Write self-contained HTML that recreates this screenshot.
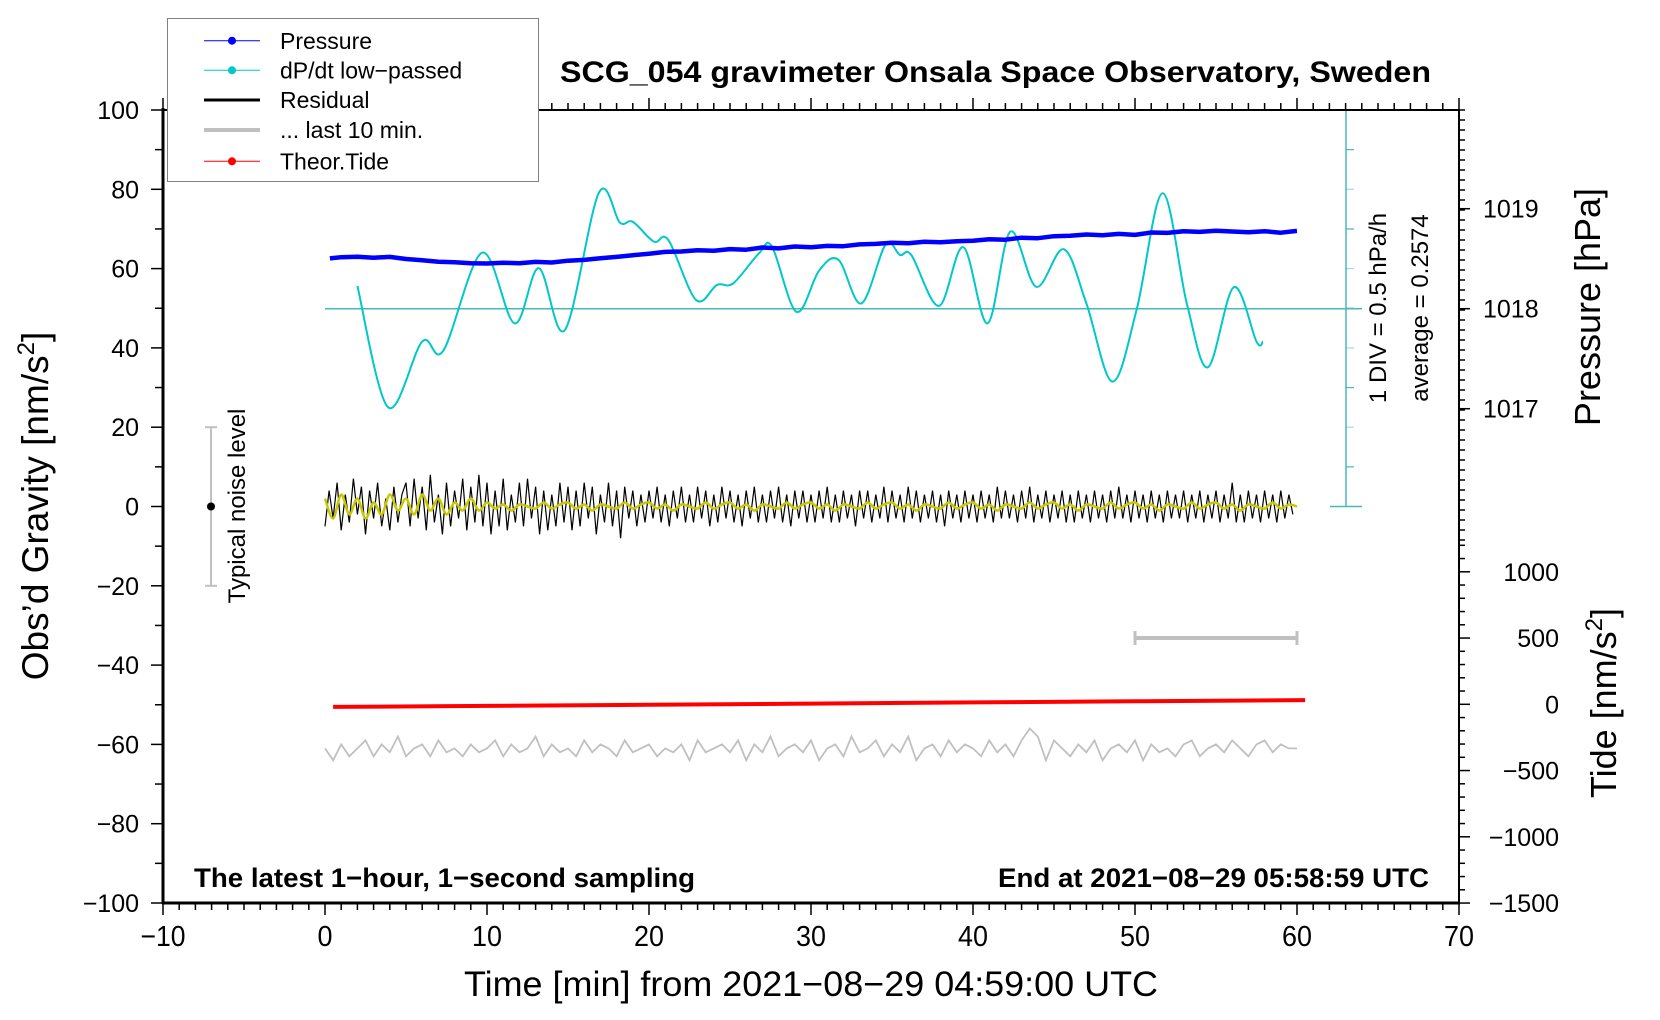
<!DOCTYPE html>
<html><head><meta charset="utf-8"><style>
html,body{margin:0;padding:0;background:#fff;}
svg{display:block;font-family:"Liberation Sans",sans-serif;}
</style></head><body>
<svg id="chart" width="1660" height="1020" viewBox="0 0 1660 1020" xmlns="http://www.w3.org/2000/svg">
<rect width="1660" height="1020" fill="#fff"/>
<g id="ticks"></g>
<g id="marks"></g>
<!-- frame -->
<line x1="163" y1="110" x2="1459" y2="110" stroke="#000" stroke-width="2"/>
<line x1="1459" y1="110" x2="1459" y2="903" stroke="#000" stroke-width="2"/>
<line x1="163" y1="108" x2="163" y2="904" stroke="#000" stroke-width="3"/>
<line x1="162" y1="903" x2="1460" y2="903" stroke="#000" stroke-width="3"/>
<g id="labels"></g>
<text x="560" y="82" font-size="30" font-weight="bold" textLength="871" lengthAdjust="spacingAndGlyphs">SCG_054 gravimeter Onsala Space Observatory, Sweden</text>
<text x="194" y="887" font-size="27" font-weight="bold" textLength="501" lengthAdjust="spacingAndGlyphs">The latest 1−hour, 1−second sampling</text>
<text x="998" y="887" font-size="27" font-weight="bold" textLength="431" lengthAdjust="spacingAndGlyphs">End at 2021−08−29 05:58:59 UTC</text>
<text x="464" y="996" font-size="35" textLength="694" lengthAdjust="spacingAndGlyphs">Time [min] from 2021−08−29 04:59:00 UTC</text>
<text transform="translate(48,506) rotate(-90)" text-anchor="middle" font-size="37">Obs’d Gravity [nm/s<tspan dy="-14" font-size="24">2</tspan><tspan dy="14">]</tspan></text>
<text transform="translate(1600,307) rotate(-90)" text-anchor="middle" font-size="36">Pressure [hPa]</text>
<text transform="translate(1616,703) rotate(-90)" text-anchor="middle" font-size="36">Tide [nm/s<tspan dy="-14" font-size="24">2</tspan><tspan dy="14">]</tspan></text>
<text transform="translate(245,506) rotate(-90)" text-anchor="middle" font-size="24">Typical noise level</text>
<text transform="translate(1386,308) rotate(-90)" text-anchor="middle" font-size="24">1 DIV = 0.5 hPa/h</text>
<text transform="translate(1428,308) rotate(-90)" text-anchor="middle" font-size="24">average = 0.2574</text>
<!-- legend -->
<g>
<rect x="167.5" y="18.5" width="371" height="163" fill="#fff" stroke="#808080" stroke-width="1"/>
<g><line x1="204" y1="40.7" x2="260" y2="40.7" stroke="#0000ff" stroke-width="1"/><circle cx="232" cy="40.7" r="4" fill="#0000ff"/><text x="280" y="49" font-size="23">Pressure</text></g>
<g><line x1="204" y1="70.3" x2="260" y2="70.3" stroke="#00c8c8" stroke-width="1"/><circle cx="232" cy="70.3" r="4" fill="#00c8c8"/><text x="280" y="78.5" font-size="23">dP/dt low−passed</text></g>
<g><line x1="204" y1="100" x2="260" y2="100" stroke="#000" stroke-width="3"/><text x="280" y="108" font-size="23">Residual</text></g>
<g><line x1="204" y1="130" x2="260" y2="130" stroke="#c0c0c0" stroke-width="4"/><text x="280" y="138" font-size="23">... last 10 min.</text></g>
<g><line x1="204" y1="161.3" x2="260" y2="161.3" stroke="#ff0000" stroke-width="1"/><circle cx="232" cy="161.3" r="4" fill="#ff0000"/><text x="280" y="169.5" font-size="23">Theor.Tide</text></g>
</g>
</svg>
<script>
// ---- data ----
const xTicks = [-10,0,10,20,30,40,50,60,70];
const yTicks = [100,80,60,40,20,0,-20,-40,-60,-80,-100];
const pTicks = [1019,1018,1017];
const tideTicks = [1000,500,0,-500,-1000,-1500];
// pressure [hPa], every 1 min from 0 to 60
const pressureVals = [1018.503,1018.515,1018.52,1018.51,1018.518,1018.497,1018.485,1018.47,1018.465,1018.455,1018.452,1018.46,1018.455,1018.468,1018.462,1018.48,1018.488,1018.505,1018.518,1018.535,1018.55,1018.568,1018.572,1018.585,1018.58,1018.596,1018.59,1018.612,1018.603,1018.622,1018.615,1018.628,1018.625,1018.643,1018.648,1018.66,1018.655,1018.67,1018.665,1018.675,1018.68,1018.695,1018.69,1018.71,1018.705,1018.725,1018.73,1018.742,1018.735,1018.748,1018.738,1018.762,1018.758,1018.775,1018.768,1018.78,1018.772,1018.765,1018.775,1018.76,1018.778];
// dP/dt low-passed in left-axis display units
const dpdtX = [2.0,3.9,6.0,7.3,9.7,11.7,13.2,14.8,16.9,18.2,19.0,20.3,21.2,22.9,24.2,25.2,26.8,27.6,29.1,30.5,31.7,33.1,34.6,35.5,36.2,37.9,39.4,40.9,42.3,43.9,45.6,47.0,48.6,50.1,51.7,53.2,54.5,56.1,57.5,57.9];
const dpdtVals = [55.6,25.0,41.6,39.3,64.0,46.2,60.1,44.5,79.1,71.6,71.8,66.8,67.2,52.1,55.9,56.3,63.9,65.5,49.1,59.5,62.2,51.2,66.0,63.4,63.4,50.6,65.4,46.2,69.3,55.4,64.9,51.2,31.5,49.6,79.0,51.2,35.1,55.3,41.6,41.6];
// residual nm/s^2, every 0.25 min
const residual = [-5,4,-3,6,-6,3,-4,7,-2,5,-7,4,-3,6,-5,2,-6,5,-4,3,
6,-5,7,-3,5,-6,8,-4,3,-7,6,-5,4,-3,7,-6,5,-4,8,-5,
6,-7,4,-5,7,-6,3,-4,6,-5,7,-3,5,-7,4,-6,3,-5,6,-4,
5,-6,4,-5,6,-3,5,-7,3,-4,6,-5,4,-8,5,-3,4,-5,3,-4,
4,-3,5,-4,3,-5,4,-3,5,-4,3,-4,5,-3,4,-5,3,-4,5,-3,
4,-4,3,-5,4,-3,5,-4,3,-4,4,-3,5,-4,3,-5,4,-3,4,-4,
3,-4,4,-3,5,-4,3,-4,4,-3,3,-5,4,-3,4,-4,3,-3,5,-4,
4,-3,3,-4,5,-3,4,-4,3,-3,4,-4,3,-5,4,-3,3,-4,4,-3,
3,-4,4,-3,3,-4,5,-3,4,-3,3,-4,4,-3,5,-4,3,-3,4,-4,
3,-3,4,-4,3,-4,4,-3,3,-4,4,-3,3,-4,4,-3,5,-3,3,-4,
4,-3,3,-4,4,-3,3,-4,4,-3,3,-3,4,-4,3,-3,4,-4,3,-3,
4,-4,3,-3,6,-4,3,-4,4,-3,3,-4,4,-3,3,-4,4,-3,3,-2];
// smoothed residual, every 0.5 min
const smoothed = [2,-3,3,-2,2,-3,1,-2,3,-1, 2,-2,3,-1,2,-2,1,-1,2,-1,
1,-0.5,0.5,-1,0.5,0,-0.5,1,-0.5,0.5, 1,-0.5,0.5,-1,0.5,0,-0.5,1,-0.5,0.5,
1,-0.5,0.5,-1,0.5,0,-0.5,1,-0.5,0.5, 1,-0.5,0.5,-1,0.5,0,-0.5,1,-0.5,0.5,
1,-0.5,0.5,-1,0.5,0,-0.5,1,-0.5,0.5, 1,-0.5,0.5,-1,0.5,0,-0.5,1,-0.5,0.5,
1,-0.5,0.5,-1,0.5,0,-0.5,1,-0.5,0.5, 1,-0.5,0.5,-1,0.5,0,-0.5,1,-0.5,0.5,
1,-0.5,0.5,-1,0.5,0,-0.5,1,-0.5,0.5, 1,-0.5,0.5,-1,0.5,0,-0.5,1,-0.5,0.5, 0];
// last 10 min residual (display units), every 0.5 min
const last10 = [-61,-64,-60,-63,-61,-59,-63,-60,-62,-58,-63,-61,-60,-63,-59,-62,-61,-63,-60,-62,
-61,-59,-63,-60,-62,-61,-58,-63,-60,-62,-61,-63,-59,-62,-60,-61,-63,-59,-62,-61,
-60,-63,-61,-62,-60,-64,-59,-62,-61,-60,-62,-59,-64,-60,-62,-58,-63,-61,-60,-62,
-59,-64,-61,-60,-63,-58,-62,-61,-59,-63,-60,-62,-58,-64,-61,-60,-63,-59,-62,-60,
-61,-63,-59,-62,-60,-63,-59,-56,-58,-64,-59,-61,-63,-60,-62,-59,-64,-61,-60,-62,
-59,-64,-60,-62,-61,-63,-60,-59,-63,-61,-60,-62,-59,-61,-63,-60,-59,-62,-60,-61,-61];
// theoretical tide nm/s^2
const tideX = [0.5,10,20,30,40,50,60.5];
const tideVals = [-20,-12,-4,5,14,23,32];

// ---- axes ----
const NS='http://www.w3.org/2000/svg';
const xS = v => 325 + (v)*16.2;
const yS = v => 506.5 - v*3.965;
const pS = v => 308.7 - (v-1018)*100;
const tS = v => 704.3 - v*0.1325;
const ticksG = document.getElementById('ticks');
const marksG = document.getElementById('marks');
const labelsG = document.getElementById('labels');
function mk(tag, attrs, parent){const e=document.createElementNS(NS,tag);for(const k in attrs)e.setAttribute(k,attrs[k]);parent.appendChild(e);return e;}
function fmt(v){return String(v).replace('-','\u2212');}

for(let m=-10;m<=70;m++){
  const x=xS(m), major=(m%10===0);
  mk('line',{x1:x,y1:903,x2:x,y2:903+(major?12:7),stroke:'#000','stroke-width':1.5},ticksG);
  mk('line',{x1:x,y1:110,x2:x,y2:110-(major?12:7),stroke:'#000','stroke-width':1.5},ticksG);
}
xTicks.forEach(v=>{
  const t=mk('text',{x:xS(v),y:946,'font-size':29,'text-anchor':'middle',textLength:String(v).length*15,lengthAdjust:'spacingAndGlyphs'},labelsG);
  t.textContent=fmt(v);
  
  
});
for(let v=-100;v<=100;v+=10){
  const y=yS(v), major=(v%20===0);
  mk('line',{x1:163,y1:y,x2:163-(major?12:8),y2:y,stroke:'#000','stroke-width':1.5},ticksG);
}
yTicks.forEach(v=>{
  const t=mk('text',{x:139,y:yS(v)+9,'font-size':25,'text-anchor':'end'},labelsG);
  t.textContent=fmt(v);
  
  
});
for(let k=0;k<=43;k++){
  const y=110+k*10;
  mk('line',{x1:1459,y1:y,x2:1465,y2:y,stroke:'#000','stroke-width':1.5},ticksG);
}
[1019,1018,1017].forEach(v=>mk('line',{x1:1459,y1:pS(v),x2:1470,y2:pS(v),stroke:'#000','stroke-width':1.5},ticksG));
pTicks.forEach(v=>{
  const t=mk('text',{x:1483,y:pS(v)+9,'font-size':25},labelsG);
  t.textContent=String(v);
  
  
});
for(let v=-1500;v<=1250;v+=100){
  const y=tS(v), major=(v%500===0);
  mk('line',{x1:1459,y1:y,x2:1459+(major?11:6),y2:y,stroke:'#000','stroke-width':1.5},ticksG);
}
tideTicks.forEach(v=>{
  const t=mk('text',{x:1559,y:tS(v)+9,'font-size':25,'text-anchor':'end'},labelsG);
  t.textContent=fmt(v);
  
  
});

const cy='#48b8b8';
mk('line',{x1:1346,y1:110,x2:1346,y2:506.5,stroke:cy,'stroke-width':1.5},marksG);
mk('line',{x1:1330,y1:110,x2:1362,y2:110,stroke:cy,'stroke-width':1.5},marksG);
mk('line',{x1:1330,y1:506.5,x2:1362,y2:506.5,stroke:cy,'stroke-width':1.5},marksG);
for(let k=1;k<10;k++){const y=506.5-k*39.65;mk('line',{x1:1346,y1:y,x2:1354,y2:y,stroke:cy,'stroke-width':1.2,opacity:k%2?1:0.5},marksG);}
const mid=mk('line',{x1:xS(0),y1:308.7,x2:1362,y2:308.7,stroke:cy,'stroke-width':1.5},marksG);



mk('line',{x1:211,y1:yS(20),x2:211,y2:yS(-20),stroke:'#c0c0c0','stroke-width':2},marksG);
mk('line',{x1:205,y1:yS(20),x2:217,y2:yS(20),stroke:'#c0c0c0','stroke-width':2},marksG);
mk('line',{x1:205,y1:yS(-20),x2:217,y2:yS(-20),stroke:'#c0c0c0','stroke-width':2},marksG);
const nd=mk('circle',{cx:211,cy:yS(0),r:4,fill:'#000'},marksG);



const sb=mk('g',{},marksG);


mk('line',{x1:xS(50),y1:tS(500),x2:xS(60),y2:tS(500),stroke:'#c0c0c0','stroke-width':4},sb);
mk('line',{x1:xS(50),y1:tS(500)-7,x2:xS(50),y2:tS(500)+7,stroke:'#c0c0c0','stroke-width':3},sb);
mk('line',{x1:xS(60),y1:tS(500)-7,x2:xS(60),y2:tS(500)+7,stroke:'#c0c0c0','stroke-width':3},sb);

function smoothPath(pts){
  let d='M'+pts[0][0].toFixed(1)+','+pts[0][1].toFixed(1);
  for(let i=0;i<pts.length-1;i++){
    const p0=pts[i-1]||pts[i],p1=pts[i],p2=pts[i+1],p3=pts[i+2]||p2;
    const c1=[p1[0]+(p2[0]-p0[0])/6,p1[1]+(p2[1]-p0[1])/6];
    const c2=[p2[0]-(p3[0]-p1[0])/6,p2[1]-(p3[1]-p1[1])/6];
    d+='C'+c1[0].toFixed(1)+','+c1[1].toFixed(1)+' '+c2[0].toFixed(1)+','+c2[1].toFixed(1)+' '+p2[0].toFixed(1)+','+p2[1].toFixed(1);
  }
  return d;
}
function poly(pts){return pts.map(p=>p[0].toFixed(1)+','+p[1].toFixed(1)).join(' ');}

const g10=mk('polyline',{points:poly(last10.map((v,i)=>[xS(i*0.5),yS(v)])),fill:'none',stroke:'#c0c0c0','stroke-width':1.8},marksG);



const rs=mk('polyline',{points:poly(residual.map((v,i)=>[xS(i*0.25),yS(v)])),fill:'none',stroke:'#000','stroke-width':1.2},marksG);


const ys=mk('path',{d:smoothPath(smoothed.map((v,i)=>[xS(i*0.5),yS(v)])),fill:'none',stroke:'#c8c800','stroke-width':2.5},marksG);



const td=mk('polyline',{points:poly(tideX.map((v,i)=>[xS(v),tS(tideVals[i])])),fill:'none',stroke:'#ff0000','stroke-width':4},marksG);



const dp=mk('path',{d:smoothPath(dpdtX.map((v,i)=>[xS(v),yS(dpdtVals[i])])),fill:'none',stroke:'#00c8c8','stroke-width':2},marksG);



const pr=mk('polyline',{points:poly(pressureVals.map((v,i)=>[xS(Math.min(60.5,Math.max(0.3,i))),pS(v)])),fill:'none',stroke:'#0000ff','stroke-width':4.5,'stroke-linejoin':'round'},marksG);


</script>
</body></html>
